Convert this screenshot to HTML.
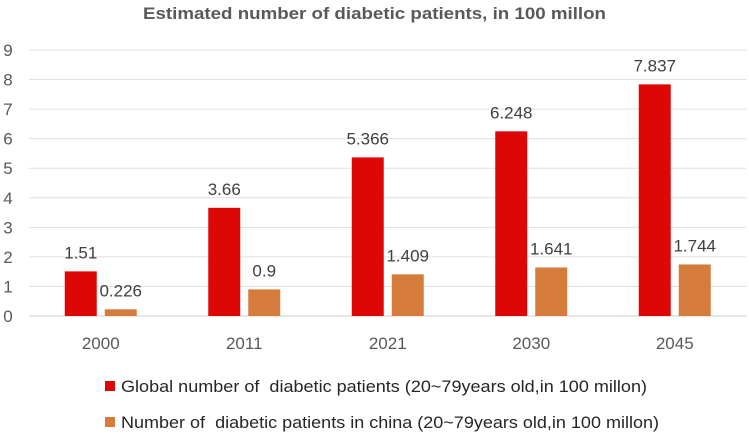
<!DOCTYPE html>
<html><head><meta charset="utf-8"><style>
html,body{margin:0;padding:0;background:#fff;}
svg{display:block;font-family:"Liberation Sans",sans-serif;}
</style></head><body>
<svg id="chart" width="749" height="434" viewBox="0 0 749 434">
<text x="374.5" y="19" text-anchor="middle" font-size="17" font-weight="bold" fill="#595959" textLength="463" lengthAdjust="spacingAndGlyphs">Estimated number of diabetic patients, in 100 millon</text>
<g id="grid"></g><g id="bars"></g><g id="labels"></g>
<g>
<rect x="105" y="381" width="10" height="10" fill="#dd0806"/>
<text x="121" y="392" font-size="17" fill="#262626" textLength="526" lengthAdjust="spacingAndGlyphs" xml:space="preserve" style="white-space:pre">Global number of  diabetic patients (20~79years old,in 100 millon)</text>
<rect x="105" y="417" width="10" height="10" fill="#d57b3b"/>
<text x="121" y="428" font-size="17" fill="#262626" textLength="538" lengthAdjust="spacingAndGlyphs" xml:space="preserve" style="white-space:pre">Number of  diabetic patients in china (20~79years old,in 100 millon)</text>
</g>
</svg>
<script>
const categories = ["2000","2011","2021","2030","2045"];
const globalValues = [1.51, 3.66, 5.366, 6.248, 7.837];
const chinaValues = [0.226, 0.9, 1.409, 1.641, 1.744];
const globalLabels = ["1.51","3.66","5.366","6.248","7.837"];
const chinaLabels = ["0.226","0.9","1.409","1.641","1.744"];
const yTicks = [0,1,2,3,4,5,6,7,8,9];

const NS = "http://www.w3.org/2000/svg";
const x0 = 29, x1 = 746.5, yBase = 316, yTop = 50, yMax = 9;
const band = (x1 - x0) / categories.length;
function y(v){ return yBase - (v / yMax) * (yBase - yTop); }
function xc(i){ return x0 + band * (i + 0.5); }
function mk(tag, attrs, parent){ const e = document.createElementNS(NS, tag); for (const k in attrs) e.setAttribute(k, attrs[k]); parent.appendChild(e); return e; }
const grid = document.getElementById('grid'), bars = document.getElementById('bars'), labels = document.getElementById('labels');

yTicks.forEach(t => {
  const l = mk('line', {x1:x0, x2:x1, y1:y(t), y2:y(t), stroke: t===0 ? '#d0d0d0' : '#e0e0e0', 'stroke-width':1}, grid);
  
  
  const tx = mk('text', {x:8, y:y(t)+6, 'text-anchor':'middle', 'font-size':17, fill:'#595959'}, grid);
  tx.textContent = t;
  
  
});

const bw = 32;
categories.forEach((c, i) => {
  const cx = xc(i);
  const gx = cx - 20 - bw/2, ox = cx + 20 - bw/2;
  const r1 = mk('rect', {x:gx, y:y(globalValues[i]), width:bw, height:yBase - y(globalValues[i]), fill:'#dd0806'}, bars);
  
  
  const r2 = mk('rect', {x:ox, y:y(chinaValues[i]), width:bw, height:yBase - y(chinaValues[i]), fill:'#d57b3b'}, bars);
  
  
  const l1 = mk('text', {x:gx + bw/2, y:y(globalValues[i]) - 13, 'text-anchor':'middle', 'font-size':17, fill:'#404040'}, labels);
  l1.textContent = globalLabels[i];
  
  
  const l2 = mk('text', {x:ox + bw/2, y:y(chinaValues[i]) - 13, 'text-anchor':'middle', 'font-size':17, fill:'#404040'}, labels);
  l2.textContent = chinaLabels[i];
  
  
  const xl = mk('text', {x:cx, y:349, 'text-anchor':'middle', 'font-size':17, fill:'#595959'}, labels);
  xl.textContent = c;
  
  
});
</script>
</body></html>
